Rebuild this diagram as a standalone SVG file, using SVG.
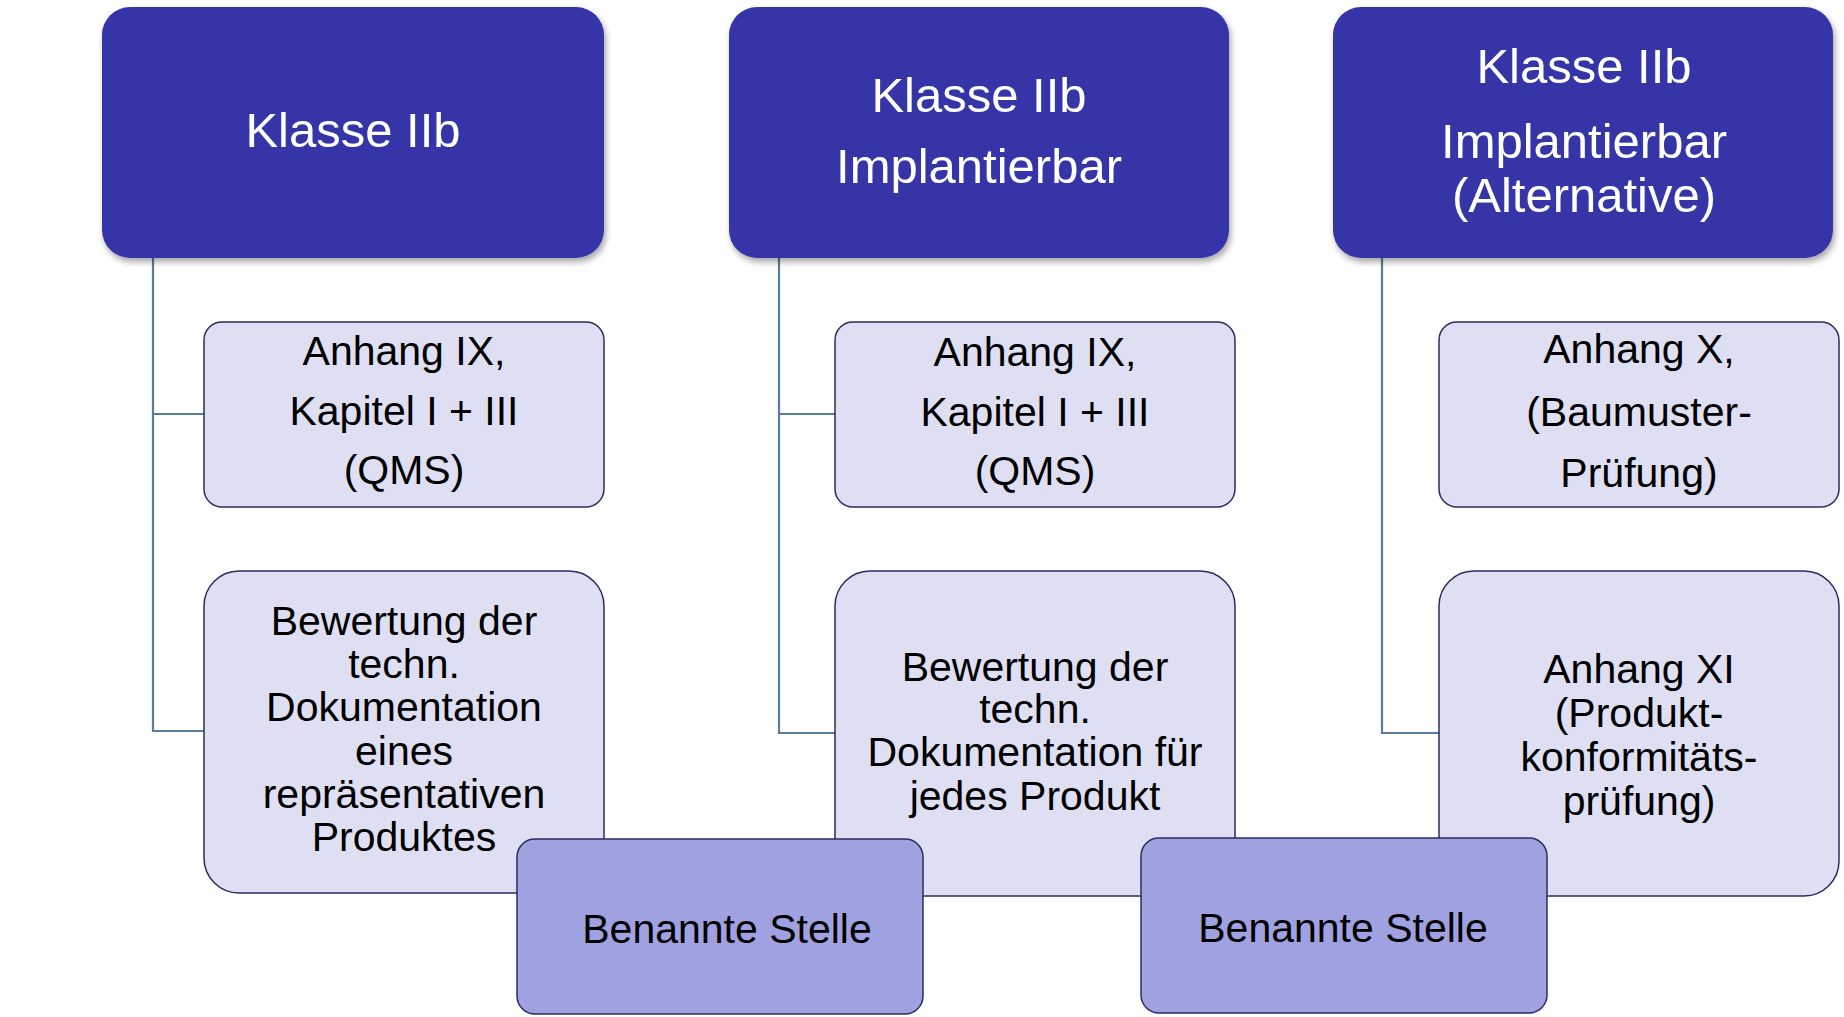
<svg xmlns="http://www.w3.org/2000/svg" width="1844" height="1017" viewBox="0 0 1844 1017">
<style>
.top{fill:#3435a8;filter:url(#sh)}
.sub{fill:#dedff3;stroke:#2b2d5e;stroke-width:1.5}
.nb{fill:#9fa1e1;stroke:#2b2d5e;stroke-width:1.5}
.tw{font-family:"Liberation Sans",Arial,sans-serif;font-size:49px;fill:#ffffff;text-anchor:middle}
.tb{font-family:"Liberation Sans",Arial,sans-serif;font-size:41px;fill:#000000;text-anchor:middle}
.con{fill:none;stroke:#5a7c9c;stroke-width:2.2}
</style>
<defs>
<filter id="sh" x="-5%" y="-5%" width="112%" height="115%">
<feDropShadow dx="2" dy="4" stdDeviation="3" flood-color="#000" flood-opacity="0.35"/>
</filter>
</defs>
<rect width="1844" height="1017" fill="#ffffff"/>
<g id="connectors">
<path class="con" d="M153 258 V731 H204 M153 414 H204"/>
<path class="con" d="M779 258 V733 H835 M779 414 H835"/>
<path class="con" d="M1382 258 V733 H1439"/>
</g>
<g id="klasse1">
<rect class="top" x="102" y="7" width="502" height="251" rx="28"/>
<text class="tw" x="353" y="147">Klasse IIb</text>
</g>
<g id="klasse2">
<rect class="top" x="729" y="7" width="500" height="251" rx="28"/>
<text class="tw" x="979" y="112">Klasse IIb</text>
<text class="tw" x="979" y="183">Implantierbar</text>
</g>
<g id="klasse3">
<rect class="top" x="1333" y="7" width="500" height="251" rx="28"/>
<text class="tw" x="1584" y="83">Klasse IIb</text>
<text class="tw" x="1584" y="158">Implantierbar</text>
<text class="tw" x="1584" y="212">(Alternative)</text>
</g>
<g id="anhang1">
<rect class="sub" x="204" y="322" width="400" height="185" rx="18"/>
<text class="tb" x="404" y="365">Anhang IX,</text>
<text class="tb" x="404" y="425">Kapitel I + III</text>
<text class="tb" x="404" y="484">(QMS)</text>
</g>
<g id="anhang2">
<rect class="sub" x="835" y="322" width="400" height="185" rx="18"/>
<text class="tb" x="1035" y="366">Anhang IX,</text>
<text class="tb" x="1035" y="426">Kapitel I + III</text>
<text class="tb" x="1035" y="485">(QMS)</text>
</g>
<g id="anhang3">
<rect class="sub" x="1439" y="322" width="400" height="185" rx="18"/>
<text class="tb" x="1639" y="363">Anhang X,</text>
<text class="tb" x="1639" y="426">(Baumuster-</text>
<text class="tb" x="1639" y="487">Prüfung)</text>
</g>
<g id="bewertung1">
<rect class="sub" x="204" y="571" width="400" height="322" rx="35"/>
<text class="tb" x="404" y="635">Bewertung der</text>
<text class="tb" x="404" y="678">techn.</text>
<text class="tb" x="404" y="721">Dokumentation</text>
<text class="tb" x="404" y="765">eines</text>
<text class="tb" x="404" y="808">repräsentativen</text>
<text class="tb" x="404" y="851">Produktes</text>
</g>
<g id="bewertung2">
<rect class="sub" x="835" y="571" width="400" height="325" rx="35"/>
<text class="tb" x="1035" y="681">Bewertung der</text>
<text class="tb" x="1035" y="723">techn.</text>
<text class="tb" x="1035" y="766">Dokumentation für</text>
<text class="tb" x="1035" y="810">jedes Produkt</text>
</g>
<g id="anhang11">
<rect class="sub" x="1439" y="571" width="400" height="325" rx="35"/>
<text class="tb" x="1639" y="683">Anhang XI</text>
<text class="tb" x="1639" y="727">(Produkt-</text>
<text class="tb" x="1639" y="771">konformitäts-</text>
<text class="tb" x="1639" y="815">prüfung)</text>
</g>
<g id="stelle1">
<rect class="nb" x="517" y="839" width="406" height="175" rx="18"/>
<text class="tb" x="727" y="943">Benannte Stelle</text>
</g>
<g id="stelle2">
<rect class="nb" x="1141" y="838" width="406" height="175" rx="18"/>
<text class="tb" x="1343" y="942">Benannte Stelle</text>
</g>
</svg>
